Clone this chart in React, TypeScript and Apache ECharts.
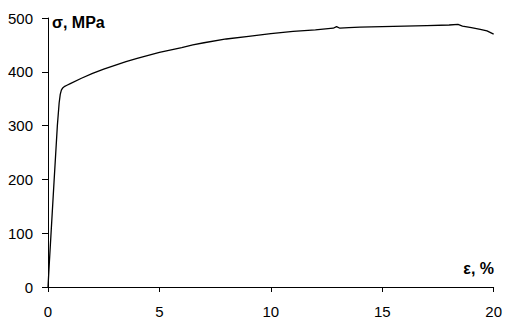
import React, { useEffect, useRef } from "react";
import * as echarts from "echarts";

const strain = [0, 0.06, 0.13, 0.27, 0.42, 0.5, 0.55, 0.6, 0.66, 0.75, 0.85, 1.0, 1.5, 2.0, 2.5, 3.0, 3.5, 4.0, 5.0, 6.0, 6.5, 7.0, 8.0, 9.0, 10.0, 11.0, 12.0, 12.8, 12.95, 13.1, 13.5, 14.0, 15.0, 16.0, 17.0, 18.0, 18.4, 18.6, 19.0, 19.4, 19.7, 20.0];
const stress = [0, 45, 95, 195, 300, 342, 358, 366, 370, 373, 375, 378, 388, 397, 405, 412, 419, 425, 436, 445, 450, 454, 461, 466, 471, 475, 478, 481, 484, 481, 482, 483, 484, 485, 486, 487, 488, 485, 482, 479, 476, 470];

const xTicks = [0, 5, 10, 15, 20];
const yTicks = [0, 100, 200, 300, 400, 500];

const yLabel = "σ, MPa";
const xLabel = "ε, %";

export default function App() {
  const ref = useRef<HTMLDivElement>(null);
  useEffect(() => {
    if (!ref.current) return;
    const chart = echarts.init(ref.current, null, { renderer: "svg" });
    const font = "'Liberation Sans', Arial, sans-serif";
    chart.setOption({
      animation: false,
      backgroundColor: "#fff",
      grid: { left: 48, right: 11, top: 18, bottom: 35 },
      xAxis: {
        type: "value",
        min: xTicks[0],
        max: xTicks[xTicks.length - 1],
        interval: xTicks[1] - xTicks[0],
        axisLine: { show: true, onZero: false, lineStyle: { color: "#000", width: 1 } },
        axisTick: { show: true, length: 5, lineStyle: { color: "#000" } },
        axisLabel: { color: "#000", fontSize: 15, fontFamily: font, margin: 17 },
        splitLine: { show: false },
      },
      yAxis: {
        type: "value",
        min: yTicks[0],
        max: yTicks[yTicks.length - 1],
        interval: yTicks[1] - yTicks[0],
        axisLine: { show: true, onZero: false, lineStyle: { color: "#000", width: 1 } },
        axisTick: { show: true, length: 6, lineStyle: { color: "#000" } },
        axisLabel: { color: "#000", fontSize: 15, fontFamily: font, margin: 15 },
        splitLine: { show: false },
      },
      graphic: [
        {
          type: "text",
          left: 52,
          top: 14,
          style: { text: yLabel, font: `bold 16px ${font}`, fill: "#000" },
        },
        {
          type: "text",
          right: 11,
          top: 260,
          style: { text: xLabel, font: `bold 16px ${font}`, fill: "#000" },
        },
      ],
      series: [
        {
          type: "line",
          data: strain.map((x, i) => [x, stress[i]]),
          showSymbol: false,
          smooth: false,
          lineStyle: { color: "#000", width: 1.3 },
        },
      ],
    });
    return () => chart.dispose();
  }, []);
  return (
    <div
      ref={ref}
      style={{ position: "absolute", left: 0, top: 0, width: 505, height: 322 }}
    />
  );
}
